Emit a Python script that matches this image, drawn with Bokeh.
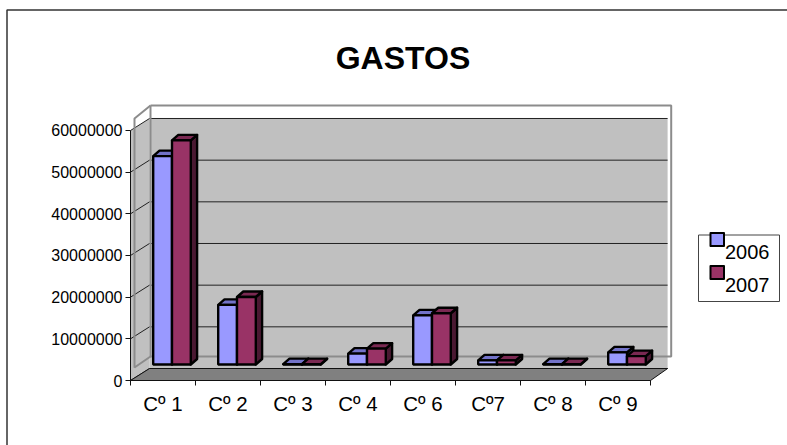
from bokeh.plotting import figure
from bokeh.models import (Range1d, LinearAxis, FixedTicker, Legend, LegendItem, Label)
from bokeh.embed import file_html
from bokeh.resources import INLINE

# ---- data ----
categories = ["Cº 1", "Cº 2", "Cº 3", "Cº 4", "Cº 6", "Cº7", "Cº 8", "Cº 9"]
values_2006 = [50000000, 14300000, 100000, 2600000, 11800000, 1000000, 100000, 2900000]
values_2007 = [53800000, 16200000, 100000, 3800000, 12300000, 1000000, 100000, 2000000]
y_ticks = [0, 10000000, 20000000, 30000000, 40000000, 50000000, 60000000]
title_text = "GASTOS"
series_names = ["2006", "2007"]

# ---- geometry: pixel sizes of the pseudo-3D drawing ----
PX_PER_CAT = 65.0
PX_PER_10M = 41.667
def dx(px): return px / PX_PER_CAT
def dy(px): return px * 1e7 / PX_PER_10M

n = len(categories)
W, H = 787, 445
AX, AY = 130, 380          # pixel position of the axes' origin
def cx(px): return dx(px - AX)   # canvas x -> data
def cy(px): return dy(AY - px)   # canvas y -> data

p = figure(width=W, height=H, output_backend="svg", toolbar_location=None,
           x_range=Range1d(cx(0), cx(W)), y_range=Range1d(cy(H), cy(0)),
           min_border=0, x_axis_type=None, y_axis_type=None, outline_line_color=None)
p.grid.visible = False
p.background_fill_color = "white"
p.border_fill_color = "white"

FONT = "Liberation Sans"
ymax = y_ticks[-1]
DX, DY = dx(19), dy(12)

# outer frame
p.line([cx(6.5), cx(6.5), cx(800)], [cy(460), cy(9.5), cy(9.5)], line_color="#333333", line_width=1.5)

# walls and floor
p.patch([DX, n + DX * 0.9, n + DX * 0.9, DX], [DY, DY, ymax + DY, ymax + DY], fill_color="#C0C0C0", line_color=None)
p.patch([0, DX, DX, 0], [0, DY, ymax + DY, ymax], fill_color="#C0C0C0", line_color=None)
p.segment([DX] * 7, [t + DY for t in y_ticks], [n + DX * 0.9] * 7, [t + DY for t in y_ticks], line_color="#222222", line_width=1)
p.segment([0] * 7, y_ticks, [DX] * 7, [t + DY for t in y_ticks], line_color="#222222", line_width=1)
p.patch([0, DX, n + DX * 0.9, n], [0, DY, DY, 0], fill_color="#808080", line_color="#111111", line_width=1)

# gray wall frame
wx0, wx1 = dx(20), dx(540.7)
wy0, wy1 = dy(24), dy(275)
sx = dx(4)
sy0, sy1 = dy(13), dy(262)
p.line([wx0, wx1, wx1, wx0, wx0], [wy1, wy1, wy0, wy0, wy1], line_color="#8C8C8C", line_width=2)
p.line([wx0, sx, sx, wx0], [wy1, sy1, sy0, wy0], line_color="#8C8C8C", line_width=2)

# bars
BW = dx(18.8)
OX = dx(22.7)
OY = dy(16)
D_X, D_Y = dx(6.3), dy(5.5)
LW = 2.4
series = [
    (values_2006, 0, "#9999FF", "#7272C8", "#3C3C66"),
    (values_2007, 1, "#993366", "#7A2952", "#4A1932"),
]
for vals, k, front, top, side in series:
    lefts = [i + OX + k * BW for i in range(n)]
    rights = [x + BW for x in lefts]
    bots = [OY] * n
    tops = [OY + v for v in vals]
    p.patches([[r, r + D_X, r + D_X, r] for r in rights],
              [[b, b + D_Y, t + D_Y, t] for b, t in zip(bots, tops)],
              fill_color=side, line_color="black", line_width=LW, line_join="round")
    p.patches([[l, l + D_X, r + D_X, r] for l, r in zip(lefts, rights)],
              [[t, t + D_Y, t + D_Y, t] for t in tops],
              fill_color=top, line_color="black", line_width=LW, line_join="round")
    p.quad(left=lefts, right=rights, bottom=bots, top=tops,
           fill_color=front, line_color="black", line_width=LW)

# axes (drawn inside the full-canvas frame)
yax = LinearAxis(ticker=FixedTicker(ticks=y_ticks), bounds=(0, ymax), fixed_location=0,
                 major_tick_in=0, major_tick_out=5, minor_tick_line_color=None,
                 major_label_text_font=FONT, major_label_text_font_size="16px",
                 major_label_text_color="black", axis_line_color="#111111", major_tick_line_color="#111111",
                 major_label_standoff=3)
yax.formatter.use_scientific = False
p.add_layout(yax, "left")

xticks = LinearAxis(ticker=FixedTicker(ticks=list(range(n + 1))), bounds=(0, n), fixed_location=0,
                    major_tick_in=0, major_tick_out=5, minor_tick_line_color=None,
                    major_label_text_font_size="0px", axis_line_color="#111111", major_tick_line_color="#111111",
                    major_label_overrides={i: "" for i in range(n + 1)}, major_label_standoff=0)
p.add_layout(xticks, "below")

xlabels = LinearAxis(ticker=FixedTicker(ticks=[i + 0.5 for i in range(n)]), bounds=(0, n), fixed_location=0,
                     major_tick_line_color=None, minor_tick_line_color=None, axis_line_color=None,
                     major_label_overrides={i + 0.5: c for i, c in enumerate(categories)},
                     major_label_text_font=FONT, major_label_text_font_size="20.5px", major_label_text_color="black",
                     major_label_standoff=5)
p.add_layout(xlabels, "below")

# title
p.add_layout(Label(x=cx(402.5), y=cy(57.5), text=title_text, text_align="center", text_baseline="middle",
                   text_font=FONT, text_font_size="32px", text_font_style="bold", text_color="black"))

# legend box, swatches and labels
p.quad(left=cx(698), right=cx(779), top=cy(234.5), bottom=cy(301), fill_color="white", line_color="#444444", line_width=1)
p.quad(left=cx(710), right=cx(723.5), top=cy(232.5), bottom=cy(245.5), fill_color=series[0][2], line_color="black", line_width=2, line_join="round")
p.quad(left=cx(710), right=cx(723.5), top=cy(265.5), bottom=cy(278.5), fill_color=series[1][2], line_color="black", line_width=2, line_join="round")
proxy = p.scatter([], [], alpha=0, size=1)
legend_items = [LegendItem(label=name, renderers=[proxy]) for name in series_names]
legend = Legend(items=legend_items, location=(710, 148.5), orientation="vertical", padding=0, margin=0,
                spacing=10, glyph_width=13, glyph_height=13, label_standoff=2,
                label_text_font=FONT, label_text_font_size="20px", label_text_color="black",
                background_fill_alpha=0, border_line_alpha=0, label_height=23)
p.add_layout(legend, "center")

open("out.html", "w").write(file_html(p, INLINE))
